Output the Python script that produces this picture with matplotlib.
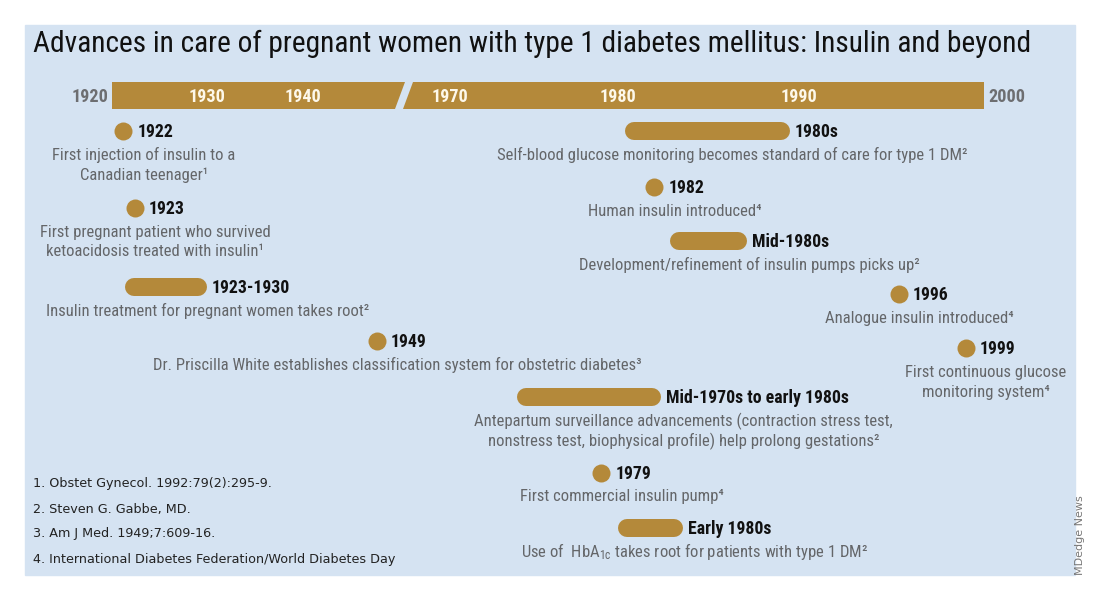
import numpy as np
import matplotlib.pyplot as plt
from matplotlib.patches import Polygon, Rectangle

plt.rcParams['font.family'] = ['Roboto Condensed', 'Archivo Narrow', 'DejaVu Sans']
plt.rcParams['mathtext.default'] = 'regular'

title = "Advances in care of pregnant women with type 1 diabetes mellitus: Insulin and beyond"

# timeline ticks, and the broken scale (1950 -> 1967.5 is cut out)
tick_years = [1920, 1930, 1940, 1970, 1980, 1990, 2000]
scale_years = [1920, 1930, 1940, 1950, 1967.5, 1970, 1980, 1990, 2000]
scale_px = [112, 207, 303, 400, 408, 450, 618, 799, 984]

# events: label, start/end year on the timeline (start == end -> dot), description
ev_label = ["1922", "1923", "1923-1930", "1949",
            "1980s", "1982", "Mid-1980s", "1996", "1999",
            "Mid-1970s to early 1980s", "1979", "Early 1980s"]
ev_start = [1921.2, 1922.4, 1921.4, 1947.6,
            1980.4, 1982.0, 1982.9, 1995.4, 1999.0,
            1974.0, 1979.0, 1980.0]
ev_end = [1921.2, 1922.4, 1930.0, 1947.6,
          1989.5, 1982.0, 1987.1, 1995.4, 1999.0,
          1982.4, 1979.0, 1983.6]
ev_text = [
    ["First injection of insulin to a", "Canadian teenager¹"],
    ["First pregnant patient who survived", "ketoacidosis treated with insulin¹"],
    ["Insulin treatment for pregnant women takes root²"],
    ["Dr. Priscilla White establishes classification system for obstetric diabetes³"],
    ["Self-blood glucose monitoring becomes standard of care for type 1 DM²"],
    ["Human insulin introduced⁴"],
    ["Development/refinement of insulin pumps picks up²"],
    ["Analogue insulin introduced⁴"],
    ["First continuous glucose", "monitoring system⁴"],
    ["Antepartum surveillance advancements (contraction stress test,",
     "nonstress test, biophysical profile) help prolong gestations²"],
    ["First commercial insulin pump⁴"],
    ["Use of  HbA$_{1c}$ takes root for patients with type 1 DM²"],
]
# layout: row of each event (pixels from top)
row_y = [131, 208, 287, 341, 131, 187, 241, 294, 348, 397, 473, 528]

notes = ["1. Obstet Gynecol. 1992:79(2):295-9.",
         "2. Steven G. Gabbe, MD.",
         "3. Am J Med. 1949;7:609-16.",
         "4. International Diabetes Federation/World Diabetes Day"]

gold = '#b4893a'
grey = '#646669'


def yx(year):
    return np.interp(year, scale_years, scale_px)


fig = plt.figure(figsize=(11, 6), dpi=100)
ax = fig.add_axes([0, 0, 1, 1])
ax.set_xlim(0, 1100)
ax.set_ylim(600, 0)
ax.axis('off')
r = fig.canvas.get_renderer()


def fit(s, width, **kw):
    # font size that makes s about width pixels wide
    t = ax.text(0, 0, s, fontsize=10, **kw)
    w = t.get_window_extent(r).width
    t.remove()
    return 10 * width / w


fs_title = fit(title, 992)
fs_body = fit("Insulin treatment for pregnant women takes root²", 320)
fs_lab = fit("1923-1930", 79, fontweight='bold')
fs_year = fit("1970", 37, fontweight='bold')

ax.add_patch(Rectangle((25, 25), 1050, 550, color='#d5e3f2', zorder=0))
ax.text(33, 44, title, fontsize=fs_title, color='#111111', ha='left', va='center')

# timeline bar with the slanted break
top, bot, sl = 82, 109, 5
xa, xb = yx(1950), yx(1967.5)
ax.add_patch(Polygon([(yx(1920), top), (xa + sl, top), (xa - sl, bot), (yx(1920), bot)],
                     color=gold, lw=0))
ax.add_patch(Polygon([(xb + sl, top), (yx(2000), top), (yx(2000), bot), (xb - sl, bot)],
                     color=gold, lw=0))
ym = (top + bot) / 2 + 1
for yr in tick_years:
    if yr == tick_years[0]:
        ax.text(yx(yr) - 4, ym, str(yr), ha='right', va='center', fontsize=fs_year,
                fontweight='bold', color='#6d6e71')
    elif yr == tick_years[-1]:
        ax.text(yx(yr) + 4, ym, str(yr), ha='left', va='center', fontsize=fs_year,
                fontweight='bold', color='#6d6e71')
    else:
        ax.text(yx(yr), ym, str(yr), ha='center', va='center', fontsize=fs_year,
                fontweight='bold', color='#fdf8ea')

rad = 9
for lab, s, e, lines, y in zip(ev_label, ev_start, ev_end, ev_text, row_y):
    x0, x1 = yx(s), yx(e)
    if e > s:
        ax.plot([x0 + rad, x1 - rad], [y, y], color=gold, lw=2 * rad * 0.72,
                solid_capstyle='round')
        left, right = x0, x1
    else:
        ax.scatter([x0], [y], s=(2 * rad * 0.72) ** 2, color=gold, lw=0)
        left, right = x0 - rad, x0 + rad
    t = ax.text(right + 5, y + 1, lab, ha='left', va='center', fontsize=fs_lab,
                fontweight='bold', color='#111111')
    bb = t.get_window_extent(r)
    cx = (left + bb.x1) / 2
    for i, ln in enumerate(lines):
        ax.text(cx, y + 24 + 20 * i, ln, ha='center', va='center', fontsize=fs_body,
                color=grey)

for i, n in enumerate(notes):
    ax.text(33, 484 + 25 * i, n, ha='left', va='center', fontsize=9.2,
            color='#222222', family='DejaVu Sans')

ax.text(1080, 575, "MDedge News", rotation=90, ha='center', va='bottom', fontsize=8,
        color='#777777', family='DejaVu Sans')

fig.savefig('out.png', dpi=100)
